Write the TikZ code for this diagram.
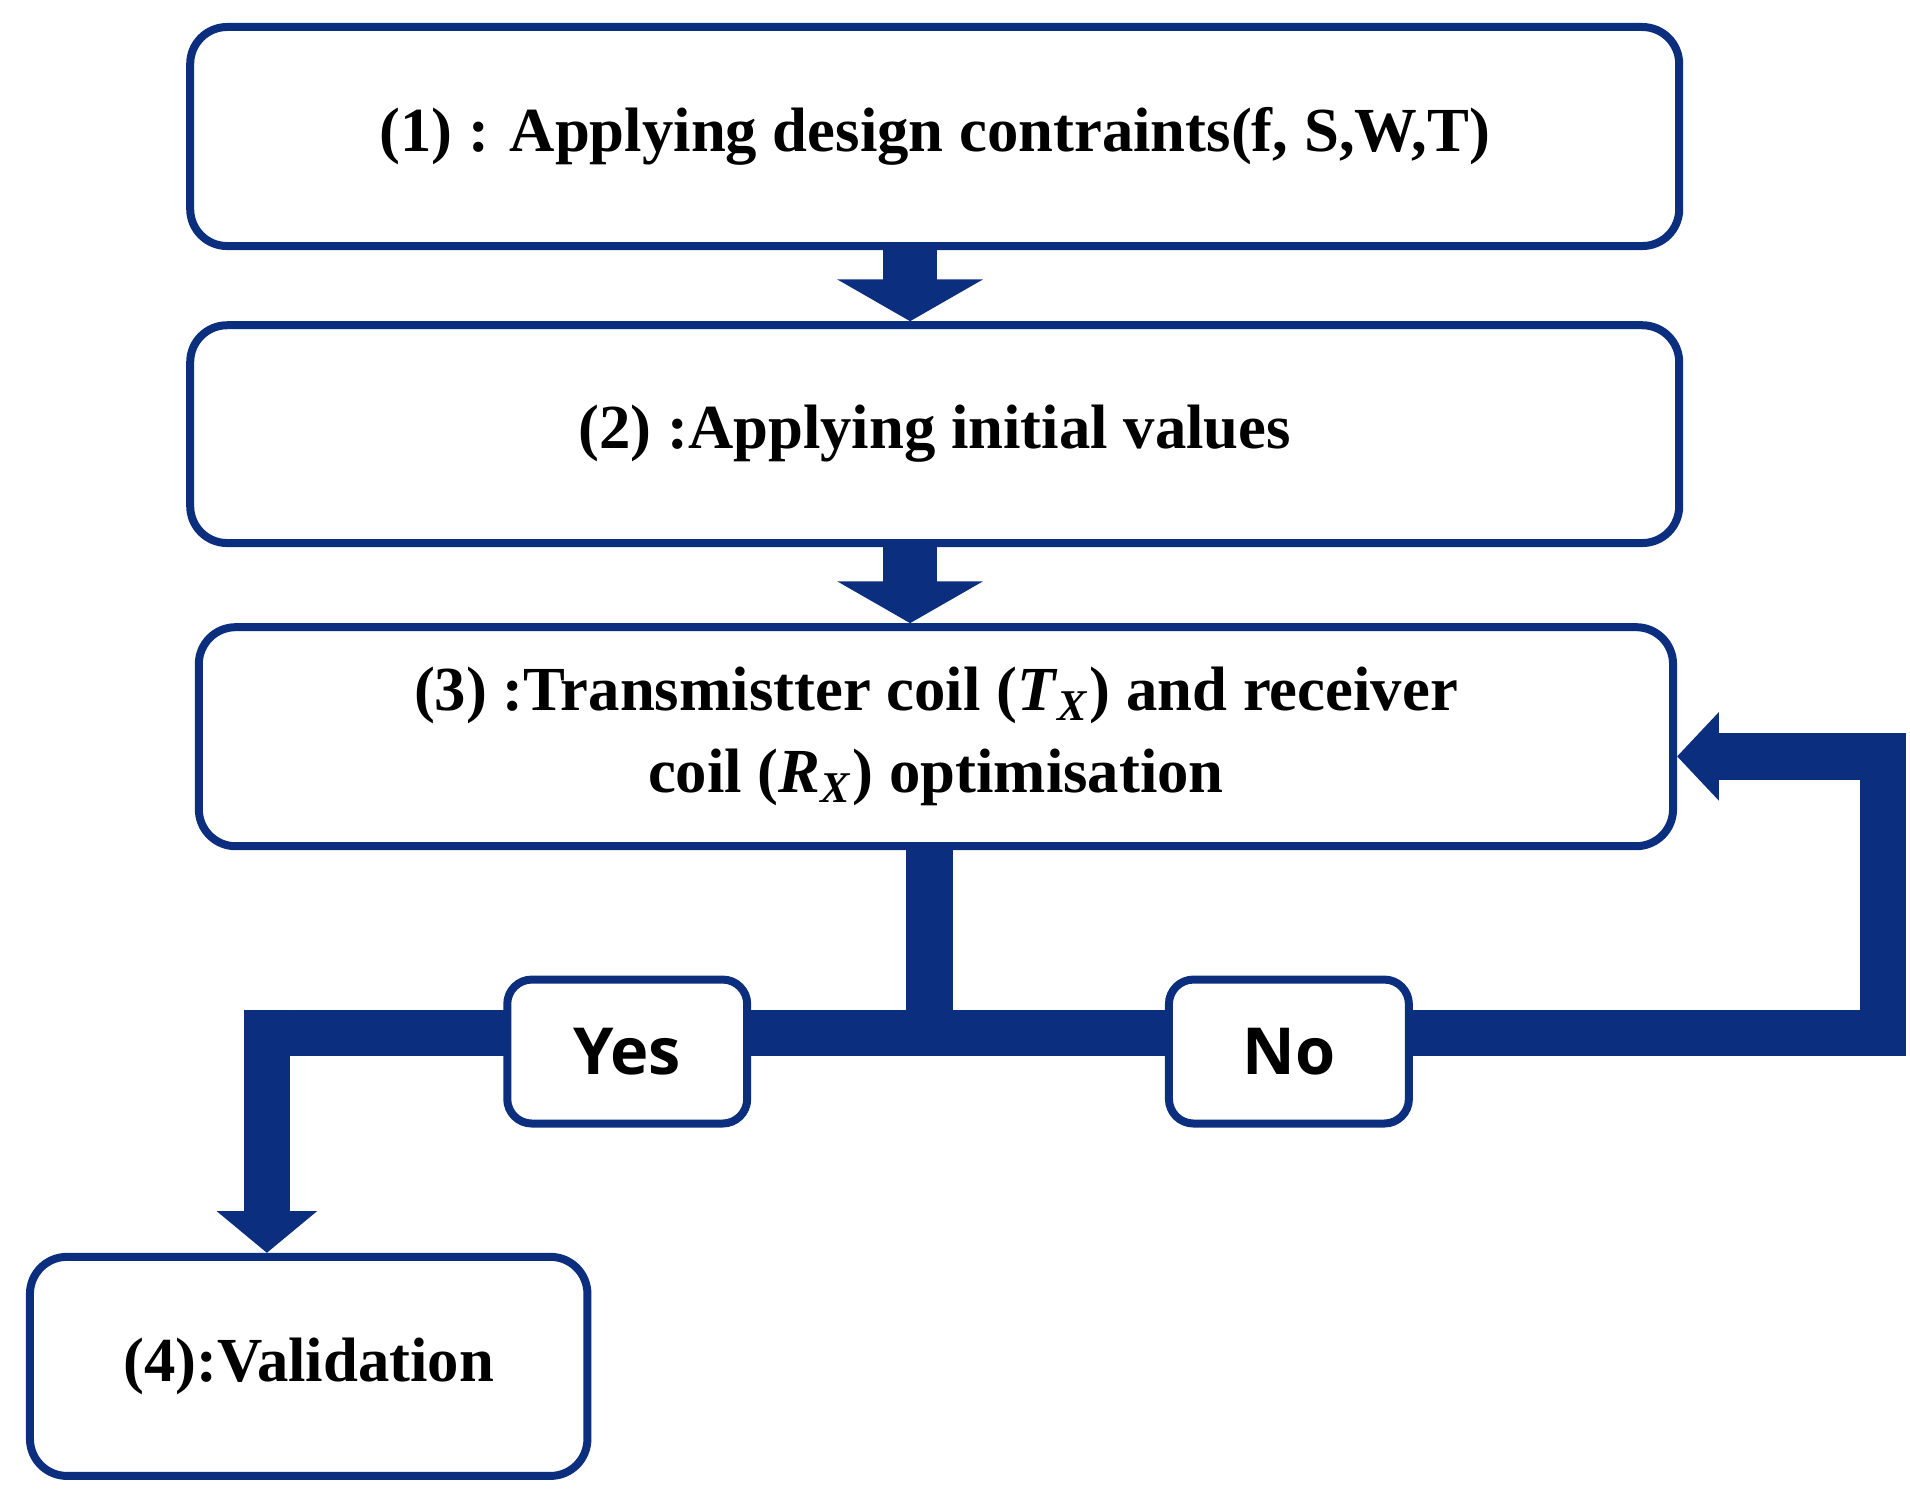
\documentclass[tikz,border=0pt]{standalone}
\usepackage{fontspec}
\setmainfont{Liberation Serif}
\newfontfamily\yn{Open Sans}
\usetikzlibrary{arrows.meta}
\definecolor{db}{HTML}{0B2F7E}
\newcommand{\mysub}[2]{\textit{#1}\textsubscript{\textit{#2}}}
\begin{document}
\begin{tikzpicture}[x=0.01cm,y=-0.01cm,
 box/.style={draw=db,line width=0.065cm,rounded corners=0.3cm,fill=white,font=\fontsize{14.5}{19}\selectfont\bfseries,align=center,inner sep=0pt},
 yn/.style={draw=db,line width=0.065cm,rounded corners=0.2cm,fill=white,font=\yn\fontsize{15}{20}\selectfont\bfseries,minimum width=1.95cm,minimum height=1.17cm},
 bar/.style={draw=db,line width=0.38cm,line join=miter},
 barrow/.style={bar,-{Triangle[width=#1,length=0.34cm]}}]
\useasboundingbox (0,0) rectangle (1553,1212);
\node[box,minimum width=12.1cm,minimum height=1.78cm] (b1) at (760,111) {(1) : Applying design contraints(f, S,W,T)};
\node[box,minimum width=12.1cm,minimum height=1.77cm] (b2) at (760,353) {(2) :Applying initial values};
\node[box,minimum width=11.98cm,minimum height=1.78cm] (b3) at (761,599) {(3) :Transmistter coil (\mysub{T}{X}) and receiver\\coil (\mysub{R}{X}) optimisation};
\node[box,minimum width=4.53cm,minimum height=1.78cm] (b4) at (251,1111) {(4):Validation};
\coordinate (j) at (756,840);
\coordinate (l) at (217,840);
\coordinate (r) at (1531,840);
\coordinate (rt) at (1531,615);
\draw[barrow=1.17cm,line width=0.44cm] (b1.south -| 740,0) -- (b2.north -| 740,0);
\draw[barrow=1.17cm,line width=0.44cm] (b2.south -| 740,0) -- (b3.north -| 740,0);
\draw[bar] (b3.south -| j) -- (j);
\draw[bar] (r) -- (l);
\draw[barrow=0.8cm,shorten <=-0.19cm] (l) -- (b4.north -| l);
\draw[barrow=0.7cm,shorten <=-0.19cm] (r) -- (rt) -- (b3.east |- rt);
\node[yn] (yes) at (510,855) {Yes};
\node[yn] (no) at (1048,855) {No};
\end{tikzpicture}
\end{document}
